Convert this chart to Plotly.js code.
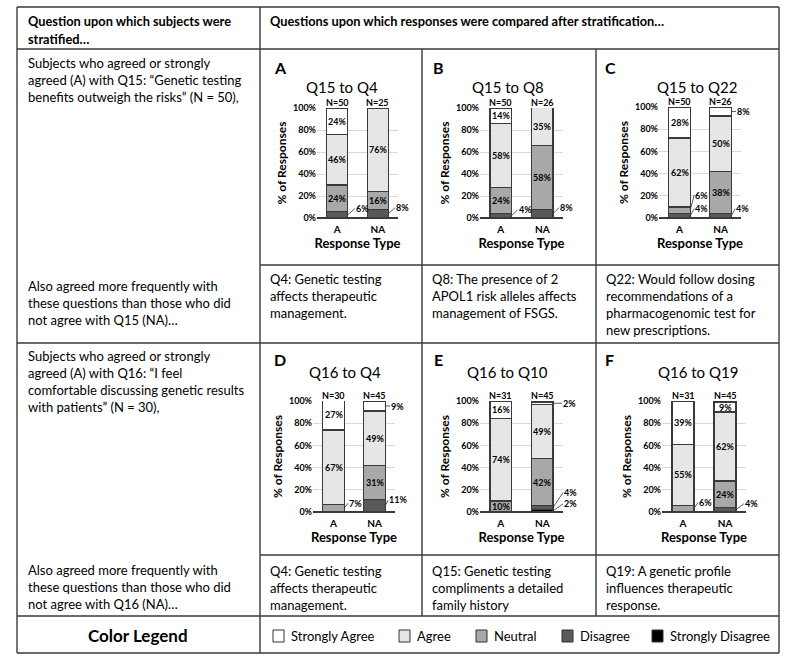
<!DOCTYPE html>
<html>
<head>
<meta charset="utf-8">
<script src="https://cdn.plot.ly/plotly-3.0.1.min.js"></script>
<style>
html,body{margin:0;padding:0;background:#fff;}
#chart{width:788px;height:662px;}
</style>
</head>
<body>
<div id="chart"></div>
<script>
// ---------------- DATA ----------------
const panelLetters = ['A', 'B', 'C', 'D', 'E', 'F'];
const panelTitles = ['Q15 to Q4', 'Q15 to Q8', 'Q15 to Q22', 'Q16 to Q4', 'Q16 to Q10', 'Q16 to Q19'];
const categories = ['A', 'NA'];
const nAgree = [50, 50, 50, 30, 31, 31];
const nNotAgree = [25, 26, 26, 45, 45, 45];
// values per panel: [A, NA]
const stronglyDisagree = [[0, 0], [0, 0], [0, 0], [0, 0], [0, 2], [0, 0]];
const disagree = [[6, 8], [4, 8], [4, 4], [0, 11], [0, 4], [0, 4]];
const neutral = [[24, 16], [24, 58], [6, 38], [7, 31], [10, 42], [6, 24]];
const agree = [[46, 76], [58, 35], [62, 50], [67, 49], [74, 49], [55, 62]];
const stronglyAgree = [[24, 0], [14, 0], [28, 8], [27, 9], [16, 2], [39, 9]];
const levelNames = ['Strongly Disagree', 'Disagree', 'Neutral', 'Agree', 'Strongly Agree'];
const legendOrder = ['Strongly Agree', 'Agree', 'Neutral', 'Disagree', 'Strongly Disagree'];
const yTickVals = [0, 20, 40, 60, 80, 100];
const yTickText = ['0%', '20%', '40%', '60%', '80%', '100%'];

// ---------------- STYLE ----------------
const W = 788, H = 662;
const FONT = 'Lato, "Open Sans", sans-serif';
const levelData = [stronglyDisagree, disagree, neutral, agree, stronglyAgree];
const levelColors = ['#000000', '#595959', '#a8a8a8', '#e6e6e6', '#ffffff'];
const colorOf = {};
levelNames.forEach((n, i) => colorOf[n] = levelColors[i]);
const BARW = 0.52;
const LINE = '#3a3a3a';

const px = v => v / W;
const py = v => 1 - v / H;

// plot boxes in pixels: [x0, x1, y0(top), y1(bottom)]
const boxes = [
  [317, 398, 108, 218],
  [480, 563, 108, 218],
  [659, 741, 107, 218],
  [313, 395, 401, 512],
  [480, 563, 401, 512],
  [662, 746, 401, 512]
];
const titlePos = [[342, 87], [508, 87], [697, 87], [345, 372], [507, 372], [698, 372]];
const letterPos = [[272, 67], [431, 67], [603, 67], [272, 359], [432, 359], [603, 359]];

// outside labels: panel, category index, level index, pixel offset of label's left edge
const outside = [
  {p: 0, c: 0, l: 1, ax: 7, ay: -6},
  {p: 0, c: 1, l: 1, ax: 7, ay: -6},
  {p: 1, c: 0, l: 1, ax: 6, ay: -6},
  {p: 1, c: 1, l: 1, ax: 6, ay: -6},
  {p: 2, c: 0, l: 2, ax: 4, ay: -15},
  {p: 2, c: 0, l: 1, ax: 4, ay: -7},
  {p: 2, c: 1, l: 4, ax: 5, ay: 0},
  {p: 2, c: 1, l: 1, ax: 4, ay: -7},
  {p: 3, c: 0, l: 2, ax: 4, ay: -5},
  {p: 3, c: 1, l: 4, ax: 5, ay: 0},
  {p: 3, c: 1, l: 1, ax: 3, ay: -6},
  {p: 4, c: 1, l: 4, ax: 9, ay: 0},
  {p: 4, c: 1, l: 1, ax: 10, ay: -15},
  {p: 4, c: 1, l: 0, ax: 10, ay: -7},
  {p: 5, c: 0, l: 2, ax: 4, ay: -6},
  {p: 5, c: 1, l: 1, ax: 8, ay: -6}
];
const isOutside = {};
outside.forEach(o => isOutside[o.p + '_' + o.c + '_' + o.l] = true);

const traces = [];
const annotations = [];
const layout = {
  width: W, height: H,
  margin: {l: 0, r: 0, t: 0, b: 0},
  paper_bgcolor: '#ffffff', plot_bgcolor: '#ffffff',
  barmode: 'stack',
  showlegend: false,
  font: {family: FONT, color: '#000'},
  shapes: [],
  annotations: annotations
};

panelLetters.forEach((letter, p) => {
  const ax = p === 0 ? '' : String(p + 1);
  const b = boxes[p];
  levelNames.forEach((name, l) => {
    traces.push({
      type: 'bar',
      name: name,
      x: categories,
      y: levelData[l][p].map(v => v === 0 ? null : v),
      width: BARW,
      xaxis: 'x' + ax, yaxis: 'y' + ax,
      marker: {color: levelColors[l], line: {color: LINE, width: 1.3}},
      hoverinfo: 'skip',
      cliponaxis: false
    });
  });
  layout['xaxis' + ax] = {
    domain: [px(b[0]), px(b[1])],
    anchor: 'y' + ax,
    type: 'category',
    range: [-0.5, 1.5],
    showgrid: false, zeroline: false, showline: false,
    ticks: '', fixedrange: true, ticklabelstandoff: 4,
    tickfont: {family: FONT, size: 10, weight: 'bold', color: '#000'},
    title: {text: 'Response Type', font: {family: FONT, size: 13, weight: 'bold', color: '#000'}, standoff: 1}
  };
  layout['yaxis' + ax] = {
    domain: [py(b[3]), py(b[2])],
    anchor: 'x' + ax,
    range: [0, 100],
    tickvals: yTickVals, ticktext: yTickText,
    showgrid: true, gridcolor: '#d9d9d9', gridwidth: 1,
    zeroline: true, zerolinecolor: '#3a3a3a', zerolinewidth: 1.6,
    showline: false, ticks: '', fixedrange: true,
    tickfont: {family: FONT, size: 9, weight: 'bold', color: '#000'},
    title: {text: '% of Responses', font: {family: FONT, size: 12, weight: 'bold', color: '#000'}, standoff: 3}
  };
  // panel letter & title
  annotations.push({xref: 'paper', yref: 'paper', x: px(letterPos[p][0]), y: py(letterPos[p][1]),
    xanchor: 'left', yanchor: 'middle', showarrow: false, text: letter,
    font: {family: FONT, size: 16, weight: 'bold', color: '#000'}});
  annotations.push({xref: 'paper', yref: 'paper', x: px(titlePos[p][0]), y: py(titlePos[p][1]),
    xanchor: 'center', yanchor: 'middle', showarrow: false, text: panelTitles[p],
    font: {family: FONT, size: 15, color: '#000'}});
  // N labels
  [nAgree[p], nNotAgree[p]].forEach((n, c) => {
    annotations.push({xref: 'x' + ax, yref: 'y' + ax, x: c, y: 100, yanchor: 'bottom', yshift: -2,
      showarrow: false, text: 'N=' + n, font: {family: FONT, size: 9, weight: 'bold', color: '#000'}});
  });
  // segment labels
  categories.forEach((cat, c) => {
    let cum = 0;
    levelNames.forEach((name, l) => {
      const v = levelData[l][p][c];
      const mid = cum + v / 2;
      cum += v;
      if (v === 0) return;
      const key = p + '_' + c + '_' + l;
      if (isOutside[key]) {
        const o = outside.find(q => q.p === p && q.c === c && q.l === l);
        annotations.push({xref: 'x' + ax, yref: 'y' + ax, x: c + BARW / 2, y: mid,
          ax: o.ax, ay: o.ay, axref: 'pixel', ayref: 'pixel',
          showarrow: true, arrowhead: 0, arrowwidth: 0.8, arrowcolor: '#333', standoff: 0, startstandoff: 0,
          text: v + '%', font: {family: FONT, size: 9, weight: 'bold', color: '#000'}, xanchor: 'left', yanchor: 'middle',
          borderpad: 0});
      } else {
        annotations.push({xref: 'x' + ax, yref: 'y' + ax, x: c, y: mid, showarrow: false,
          text: v + '%', font: {family: FONT, size: 9, weight: 'bold', color: '#000'}, borderpad: 0});
      }
    });
  });
});

// ---------------- TABLE ----------------
function hline(x0, x1, y, w) {
  layout.shapes.push({type: 'line', xref: 'paper', yref: 'paper', x0: px(x0), x1: px(x1), y0: py(y), y1: py(y),
    line: {color: '#3a3a3a', width: w || 1.4}});
}
function vline(x, y0, y1, w) {
  layout.shapes.push({type: 'line', xref: 'paper', yref: 'paper', x0: px(x), x1: px(x), y0: py(y0), y1: py(y1),
    line: {color: '#3a3a3a', width: w || 1.4}});
}
const L = 17, R = 779, T = 7, B = 653, C1 = 260, S1 = 422, S2 = 596;
hline(L, R, T); hline(L, R, 49); hline(L, R, 343); hline(L, R, 616); hline(L, R, B);
hline(C1, R, 265); hline(C1, R, 555);
vline(L, T, B); vline(R, T, B); vline(C1, T, B);
vline(S1, 49, 616); vline(S2, 49, 616);

function txt(x, y, lines, size, bold, anchor) {
  lines.forEach((t, i) => {
    annotations.push({xref: 'paper', yref: 'paper', x: px(x), y: py(y + i * 17), xanchor: anchor || 'left', yanchor: 'middle',
      showarrow: false, text: t, font: {family: FONT, size: size, weight: bold ? 'bold' : 'normal', color: '#000'}});
  });
}
const headerLeft = ['Question upon which subjects were', 'stratified…'];
const headerRight = ['Questions upon which responses were compared after stratification…'];
txt(26, 21, [headerLeft[0]], 12.8, true);
txt(26, 39, [headerLeft[1]], 12.8, true);
txt(268, 21, headerRight, 12.8, true);

txt(26, 63, ['Subjects who agreed or strongly', 'agreed (A) with Q15: “Genetic testing', 'benefits outweigh the risks” (N = 50),'], 13, false);
txt(26, 286, ['Also agreed more frequently with', 'these questions than those who did', 'not agree with Q15 (NA)…'], 13, false);
txt(26, 356, ['Subjects who agreed or strongly', 'agreed (A) with Q16: “I feel', 'comfortable discussing genetic results', 'with patients” (N = 30),'], 13, false);
txt(26, 570, ['Also agreed more frequently with', 'these questions than those who did', 'not agree with Q16 (NA)…'], 13, false);

txt(268, 279, ['Q4: Genetic testing', 'affects therapeutic', 'management.'], 13, false);
txt(430, 279, ['Q8: The presence of 2', 'APOL1 risk alleles affects', 'management of FSGS.'], 13, false);
txt(604, 279, ['Q22: Would follow dosing', 'recommendations of a', 'pharmacogenomic test for', 'new prescriptions.'], 13, false);
txt(268, 571, ['Q4: Genetic testing', 'affects therapeutic', 'management.'], 13, false);
txt(430, 571, ['Q15: Genetic testing', 'compliments a detailed', 'family history'], 13, false);
txt(604, 571, ['Q19: A genetic profile', 'influences therapeutic', 'response.'], 13, false);

// legend row
txt(138, 635, ['Color Legend'], 17, true, 'center');
const legendBoxX = [273, 399, 476, 562, 652];
legendOrder.forEach((name, i) => {
  const x0 = legendBoxX[i];
  layout.shapes.push({type: 'rect', xref: 'paper', yref: 'paper', x0: px(x0), x1: px(x0 + 11), y0: py(642), y1: py(630),
    fillcolor: colorOf[name], line: {color: '#333', width: 1}});
  annotations.push({xref: 'paper', yref: 'paper', x: px(x0 + 16), y: py(636), xanchor: 'left', yanchor: 'middle',
    showarrow: false, text: name, font: {family: FONT, size: 13, color: '#000'}});
});

Plotly.newPlot('chart', traces, layout, {staticPlot: true, displayModeBar: false});
</script>
</body>
</html>
